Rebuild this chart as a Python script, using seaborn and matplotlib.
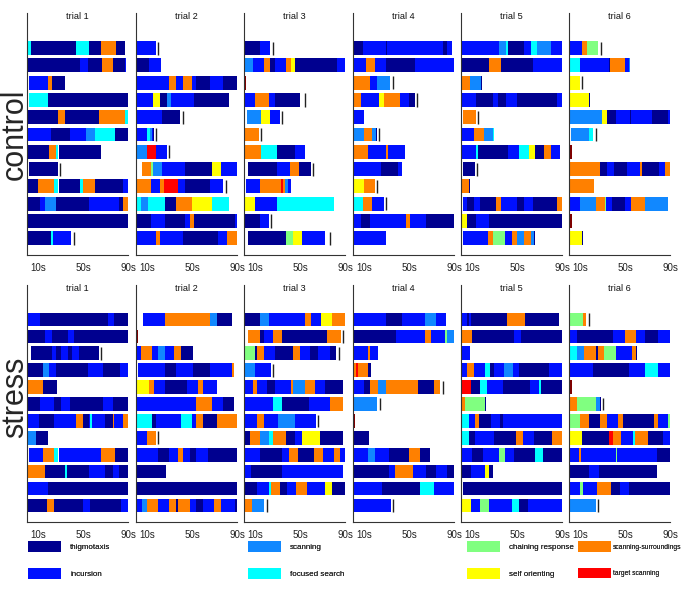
import matplotlib
matplotlib.use("Agg")
import matplotlib.pyplot as plt
from matplotlib.patches import Patch
import seaborn as sns

# ---------------- data ----------------
# each bar: "start CODEend CODEend ... |marker"
categories = ["thigmotaxis", "incursion", "scanning", "focused search",
              "chaining response", "self orienting", "scanning-surroundings",
              "target scanning"]
codes = ["T", "I", "S", "F", "C", "O", "U", "R"]
colors = ["#00008F", "#0010FF", "#1188FF", "#00FFFF",
          "#80FF80", "#FFFF00", "#FF8000", "#FF0000"]
extra_code, extra_color = "M", "#800000"

groups = ["control", "stress"]
trial_titles = ["trial 1", "trial 2", "trial 3", "trial 4", "trial 5", "trial 6"]
tick_values = [10, 50, 90]
tick_labels = ["10s", "50s", "90s"]

control_t1 = [
    "0 F3.8 T43.4 F55.2 T65.5 U79 T87.3",
    "0 T47.5 I54 T66.4 U76 T87.5 I88",
    "1.8 I18.3 U22 T34.2",
    "1.8 F18.3 T90",
    "0 T27.4 U34 T63.7 U87.3 F90",
    "0 I21.5 T38.4 I52.2 S60.5 F78.2 T90",
    "0 T19.5 U25.7 F28 T66",
    "1.8 T27.4 |29.5",
    "0 T9.7 U23.6 F28 T47.5 F49.6 U60.5 T85.6 I90",
    "0 T11.8 I16.2 S26 T55.5 I81.4 T85.6 U90",
    "0 T90",
    "0 T21.5 F23 I39.2 |41.9",
]
control_t2 = [
    "0 I17.5 |19.8",
    "0 T11.5 I21.9",
    "0 I29.6 U35.5 I41.4 U49.4 I53 T65.7 I77.5 T89.4",
    "0 I15.4 O21.3 T27.2 S30.8 I51.5 T82.9",
    "1.2 I23.4 T39.1 |41.4",
    "0 I9.5 F12.4 S13.9 I15.4 T16.3 |17.8",
    "0 S9.5 R17.8 I27.2 |29.6",
    "5 U13.3 C14.8 S23.4 I43.5 T67.2 O75.2 I90",
    "0 U13.3 I21.3 U25.2 R37.6 I43.5 T65.7 I77.5 |79.6",
    "0 F4.4 S6 F6.5 S11 F25.8 T35.5 U49.4 O67.2 F82.9",
    "0 T13 I25.8 T43.5 I47.9 U51.5 T87.9 I90",
    "0 I17.5 U21.3 I41.4 T73.1 I81.1 U90",
]
control_t3 = [
    "0 T13.9 I23.4 |25.8",
    "1.2 S8 I17.5 U23.4 T27.2 I37.6 U41.4 O45.6 T82.9 I90",
    "0 M2",
    "0 I9.5 U21.9 I27.2 T49.4 |53.9",
    "3 S15.4 O23.4 I31.7 |33.7",
    "0 U13.3 |15.4",
    "0 U15.4 F29 T45.6 I53.9",
    "3.6 T29 I40.8 U48.8 T59.2 |61.6",
    "2 I13.9 U33.2 R34.7 U36 S39.4 I42",
    "0 O9.5 I29 F79.9",
    "0 T13.9 I21.9 |23.7",
    "3.6 T37.6 C43.5 O51.5 I71.6 |76",
]
control_t4 = [
    "0 T8.9 I29.7 T30.3 I79.6 T83.2 I87.6",
    "0 I11.3 U19.3 I29.7 T55.5 I89.7",
    "0 U15.4 I21.4 S33.3 |35.6",
    "0.6 U7.4 I23.2 O27.3 U41.6 I49.6 T55 |57",
    "0 I9.5",
    "0 S9.5 U17.2 S20.8 T21.4 |22.9",
    "0 U13.4 I29.1 U31.2 I46",
    "0 I25.2 T40.1 I44",
    "0.6 O9.5 U19.3 |21.4",
    "0 F8.9 U17.2 I27.3 |29.1",
    "0 I7.4 T15.4 I47.5 U51.1 I65.3 T89.7",
    "0 I29.7",
]
control_t5 = [
    "0 I34.2 S40.1 F41.6 T55.8 I61.8 F67.7 S79.6 I89.7",
    "0 T25.2 U35.6 T63.9 I89.7",
    "0.6 U8 S17.8 T18.4",
    "0 I13.4 T28.2 I33.3 T40.1 I49.9 T85.5 I89.7",
    "1.5 U13.4 |15.4",
    "0 I11.9 U20.2 S28.2 F29.1 T29.7",
    "0 I13.4 F15.4 T41.6 I51.4 F60 O65.9 T73.6 U79.6 I87.6",
    "1.5 T12.5 |14",
    "0 U7.4 T8",
    "1.5 I5.3 T11.3 I17.2 T31.2 U35.6 I49.9 T55.8 I63.9 T85.5 U89.7",
    "0 O5.3 T13.4 I25.2 T89.7",
    "1.5 I23.8 U28.2 C39.5 I45.1 U49.9 S55.8 U61.8 S65.3 T66.2",
]
control_t6 = [
    "0 I11.8 U16.2 C26 |28",
    "0.6 F9.4 I35.4 T36 U49.6 I53.1 S54.6",
    "0 O9.4 |11.8",
    "0 O17.7 T18.3",
    "0 S29.5 O33.9 T41.9 I54.6 T55 I73.8 T87.9 I90",
    "1.5 S17.7 F21.2 |23.6",
    "0 M2.4",
    "0 U27.4 T33.9 I39.8 T51.6 I63.4 U64.9 T79.6 I85.5 U90",
    "0 U22.1 T22.6",
    "0 I9.4 S23.6 U31.9 C33.3 I37.8 T49.6 I55.5 U67.2 S87.9",
    "0 M2.4",
    "0.6 O11.8 T12.4",
]
stress_t1 = [
    "0 I11.8 T71.7 I77.6 T90",
    "0 T16.2 I22.1 T36.3 I41.6 T90",
    "3.8 T22.4 I26 T30.4 I36.3 T40.1 I46 T63.7 |65.8",
    "0 T14.2 S19.5 I26 T54 I67.9 T82.6 I90",
    "0 U14.2 T26.6",
    "0 T11.8 I23.6 T30.4 I37.8 T67.9 I76.1 T90",
    "0 I10.3 T23.6 I43.7 U50.2 T55.5 I56.4 F57.8 I69.6 T76.1 U77.6 I85.6 U90",
    "0 S8.3 T18.6",
    "1.8 I14.2 U23.6 F28 I65.8 U78.2 T90",
    "0 U16.2 T34.2 F35.7 T55.5 I69.6 T76.1 I82 T90",
    "0 I18.6 T90",
    "0 T18 U23.6 T50.2 I56 T83.5 I90",
]
stress_t2 = [
    "5.9 I25.8 U65.7 S71.6 T85.6",
    "0 M2",
    "0 I4.1 U13.9 I19.8 S25.8 I33.7 U39.7 T50.3",
    "2 I25.8 T35.5 I50.3 T65.7 I85 U87",
    "0 O11.5 U16 I25.8 T45.6 I55.4 U59.8 I72.2",
    "0 I53.3 U67.8 I77.6 T87.3",
    "0 F13.9 T17.8 I39.7 F49.4 I53.3 U59.8 T71.6 U90",
    "0 I9.5 U17.5 |19.8",
    "0 I19.8 T29.6 I37.6 U41.4 I47.9 T53.3 I64.2 T90",
    "0 T26.3",
    "1.2 T90",
    "0 I5.6 S10 U19.8 I29.6 U35.5 T37.6 U47.9 I53.3 T59.2 I69.3 U75.5 I88 T90",
]
stress_t3 = [
    "0 T13.9 S21.9 I53.9 U59.8 I68.1 O78.2 U90",
    "3.6 U13.9 T17.5 I25.8 U33.7 T74 U85.9 |87.9",
    "0 C10 T11.8 U17.8 I27.8 T43.5 U50 I58.3 T65.7 I76.1 T82 |84",
    "0 S9.5 I23.7 |25.8",
    "0 I8 U11.8 I20.4 T27.8 I42 U43.5 S53.9 U63.3 I71.6 T87.9",
    "0 I25.8 F33.7 T57.7 I76.1 U87.9",
    "0 I11.5 U17.8 I30.2 S45.6 I63.6 |65.7",
    "0 T5.6 U13.9 S22.2 F25.8 U37.6 T45.6 I51.8 O67.2 T87.9",
    "0 I13.9 T33.7 I39.7 U48 T62.2 U70.2 I80 U85.6 I90",
    "0 I5.9 T33.7 I87.9",
    "0 T11.8 I21.9 F23.7 U31.7 T38.5 I46.5 U55.9 I72.2 O78.2 T90",
    "0 U7.4 S17.8 |20.4",
]
stress_t4 = [
    "0 I29.6 T43.8 I63.6 S73.4 I82.9",
    "0 T37.9 I63.6 U69.6 I81.4 C83.5 S89.4",
    "0 I13.3 U15.4 I22.2",
    "0.6 U2.4 R4.4 U13.3 T16.3",
    "0 I9.5 T15.4 U22.2 S29.6 U57.7 T71.6 U77.5 |79.9",
    "0 S21.3 |23.7",
    "0 M2",
    "0 T14.2",
    "0 I13.3 S19.8 I31.7 T49.4 U59.8 T68.1",
    "0 T31.7 I37.6 U53.3 I65.1 T73.4 I83.5 T90",
    "0 I25.8 T59.8 F71.6 I90",
    "0 I33.4 |35.5",
]
stress_t5 = [
    "0 I5.3 T7.4 I8.9 T40.9 U57.1 T87.3",
    "0 U9.8 T47.4 I53.3 T90",
    "0 I7.7",
    "0.9 I5.3 U11.2 I21.6 F25.8 T29.6 I37.9 S45.9 I51.8 T77.8 I90",
    "0 R9.2 T17.2 F23.1 I37.3 T61 I69 F71 T90",
    "0 U3.8 C21.6 T22.2",
    "0 F7.4 I12.7 U15.7 T26.6 I34.9 T37.3 I90",
    "0 F7.4 T12.7 I29.6 T49.1 U55.1 I64.5 T80.8 U90",
    "0 I9.8 T19.2 I33.4 C38.8 I46.8 T65.4 F72.8 T90",
    "0 T9.2 I21 O25.2 T28.1",
    "1.8 T90",
    "0 O8.9 I17.2 C25.2 I45.3 F51.2 T59.2 I90",
]
stress_t6 = [
    "0.9 C12.7 U14.8 T15.3 |17.8",
    "0 I7.4 T39.4 I49.7 U59.2 I67.5 T79.3 I90",
    "0.9 F7.4 S13.6 U23.7 T25.5 U31.4 C41.5 I55.7 U59.2 T60",
    "0 I21.6 T53.3 I67.5 F79.3 I90",
    "0 M2.4",
    "0 U7.4 C23.7 S27.5 T28 |29.9",
    "0 C9.8 U17.8 T27.5 U33.4 I43.2 U47.6 T75.8 U79.3 I87.6 C90",
    "0 O11.8 T35.5 R39.4 U45.9 I57.1 F58.6 U69.9 T83.2 I90",
    "0 I8.9 U10.7 I41.4 C42.9 I77.8 T90",
    "0 T17.8 I26.9 T78.4",
    "0 I9.8 C12.7 I25.2 U37.3 T45.3 I53.3 T90",
    "0 S23.7 |25.5",
]

panels = {
    "control": [control_t1, control_t2, control_t3, control_t4, control_t5, control_t6],
    "stress": [stress_t1, stress_t2, stress_t3, stress_t4, stress_t5, stress_t6],
}

# ---------------- style ----------------
sns.set_theme(style="white")
plt.rcParams["font.family"] = ["Liberation Sans", "DejaVu Sans"]
color_of = dict(zip(codes, colors))
color_of[extra_code] = extra_color

W, H = 685, 591
fig = plt.figure(figsize=(W / 100, H / 100), dpi=100)

col_left_px = [27, 136, 244, 353, 461, 569]
panel_w_px = 101.25
row_box_px = {"control": (13, 255), "stress": (285, 522)}
bar_h = 0.8


def parse(bar):
    toks = bar.split()
    start = float(toks[0])
    segs, marker = [], None
    for tk in toks[1:]:
        if tk.startswith("|"):
            marker = float(tk[1:])
        else:
            end = float(tk[1:])
            segs.append((tk[0], start, end))
            start = end
    return segs, marker


for g in groups:
    top_px, bot_px = row_box_px[g]
    for j, bars in enumerate(panels[g]):
        ax = fig.add_axes([col_left_px[j] / W, 1 - bot_px / H,
                           panel_w_px / W, (bot_px - top_px) / H])
        for r, bar in enumerate(bars):
            segs, marker = parse(bar)
            for c, s, e in segs:
                ax.barh(r, e - s, left=s, height=bar_h, color=color_of[c],
                        edgecolor="none", linewidth=0)
            if marker is not None:
                ax.vlines(marker, r - 0.38, r + 0.38, color="#222222", lw=1.0)
        ax.set_xlim(0, 90)
        ax.set_ylim(11.97, -2.03)
        ax.set_yticks([])
        ax.set_xticks(tick_values)
        ax.set_xticklabels(tick_labels)
        ax.tick_params(axis="x", direction="in", length=3, width=0.8,
                       labelsize=7, pad=5.5, colors="#222222")
        sns.despine(ax=ax)
        for sp in ("left", "bottom"):
            ax.spines[sp].set_color("#333333")
            ax.spines[sp].set_linewidth(0.8)
        ax.set_facecolor("white")
        ax.text(0.5, 0.985, trial_titles[j], transform=ax.transAxes,
                ha="center", va="center", fontsize=6.6, color="#111111")

fig.text(0 / W, 1 - 134 / H, "control", rotation=90, fontsize=22,
         ha="left", va="center")
fig.text(0 / W, 1 - 397 / H, "stress", rotation=90, fontsize=22,
         ha="left", va="center")

# legend: one column of two entries per legend box
handles = [Patch(facecolor=col, edgecolor="none") for col in colors]
legend_col_px = [28, 248, 467, 578]
legend_font = [5.8, 5.8, 5.8, 4.9]
legend_pad = [1.1, 1.1, 1.1, 0.2]
for k, x_px in enumerate(legend_col_px):
    fs = legend_font[k]
    scale = 5.8 / fs
    leg = fig.legend(handles[2 * k:2 * k + 2], categories[2 * k:2 * k + 2],
                     ncol=1, loc="upper left",
                     bbox_to_anchor=(x_px / W, 1 - 541 / H),
                     frameon=False, fontsize=fs, handlelength=4.15 * scale,
                     handleheight=1.75 * scale, handletextpad=legend_pad[k] * scale,
                     labelspacing=1.95 * scale, borderaxespad=0, borderpad=0)
    fig.add_artist(leg)

fig.savefig("out.png", dpi=100, facecolor="white")
